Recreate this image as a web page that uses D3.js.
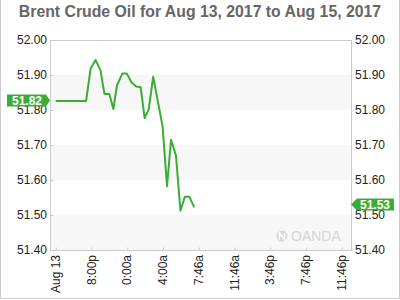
<!DOCTYPE html>
<html>
<head>
<meta charset="utf-8">
<script src="https://cdn.jsdelivr.net/npm/d3@7"></script>
<style>
  body { margin: 0; background: #fff; }
  text { font-family: "Liberation Sans", Arial, sans-serif; }
</style>
</head>
<body>
<svg id="chart" width="400" height="300"></svg>
<script>
// hours after the "Aug 13" tick
const hours = [0, 3.4, 3.9, 4.45, 5.0, 5.45, 6.0, 6.45, 6.85, 7.45, 7.95, 8.45, 9.0, 9.5,
    9.95, 10.4, 10.9, 11.95, 12.45, 12.9, 13.45, 13.95, 14.45, 14.95, 15.5];
const prices = [51.826, 51.826, 51.918, 51.943, 51.914, 51.846, 51.846, 51.803, 51.870, 51.904,
    51.904, 51.880, 51.867, 51.865, 51.777, 51.802, 51.895, 51.754, 51.582, 51.715,
    51.670, 51.512, 51.552, 51.552, 51.522];
const tickHours = [0, 4, 8, 12, 16, 20, 24, 28, 32];
const tickLabels = ["Aug 13", "8:00p", "0:00a", "4:00a", "7:46a", "11:46a", "3:46p", "7:46p", "11:46p"];
const yTicks = [51.4, 51.5, 51.6, 51.7, 51.8, 51.9, 52.0];
const firstLabel = "51.82";
const lastLabel = 51.53;

const svg = d3.select("#chart");
const green = "#3bad35";
const plotL = 50, plotR = 351, plotT = 40, plotB = 250;

const xScale = d3.scaleLinear().domain([-0.64, 33.03]).range([plotL, plotR]);
const yScale = d3.scaleLinear().domain([51.4, 52.0]).range([plotB, plotT]);

// outer border
svg.append("rect").attr("x", 0.5).attr("y", -2).attr("width", 399).attr("height", 300.5)
    .attr("fill", "none").attr("stroke", "#ccc");

// title
svg.append("text").attr("x", 200).attr("y", 17).attr("text-anchor", "middle")
    .attr("font-size", 15.8).attr("font-weight", "bold").attr("fill", "#666")
    .text("Brent Crude Oil for Aug 13, 2017 to Aug 15, 2017");

// alternating bands
const bands = [[51.4, 51.5], [51.6, 51.7], [51.8, 51.9]];
svg.selectAll(".band").data(bands).enter().append("rect")
    .attr("class", "band")
    .attr("x", plotL).attr("width", plotR - plotL)
    .attr("y", d => yScale(d[1])).attr("height", d => yScale(d[0]) - yScale(d[1]))
    .attr("fill", "#f7f7f7");

// OANDA mark
const logo = svg.append("g").attr("fill", "#d6d6d6");
logo.append("circle").attr("cx", 282).attr("cy", 236).attr("r", 5.5);
logo.append("path").attr("d", "M279.5,239.5 L279.5,233 L284.5,239.5 L284.5,233")
    .attr("stroke", "#fff").attr("stroke-width", 1.6).attr("fill", "none");
logo.append("text").attr("x", 291).attr("y", 241).attr("font-size", 14).text("OANDA");

// frame
svg.append("rect").attr("x", plotL + 0.5).attr("y", plotT + 0.5)
    .attr("width", plotR - plotL).attr("height", plotB - plotT)
    .attr("fill", "none").attr("stroke", "#ccc");

// left axis
const yLeft = svg.append("g").attr("transform", `translate(${plotL + 0.5},0)`)
    .call(d3.axisRight(yScale).tickValues(yTicks).tickSize(3).tickFormat(""));
yLeft.select(".domain").remove();
yLeft.selectAll("line").attr("stroke", "#ccc");

svg.selectAll(".ylabL").data(yTicks).enter().append("text")
    .attr("x", plotL - 3).attr("y", d => yScale(d)).attr("dy", "0.35em")
    .attr("text-anchor", "end").attr("font-size", 12).attr("fill", "#222")
    .text(d => d.toFixed(2));
svg.selectAll(".ylabR").data(yTicks).enter().append("text")
    .attr("x", plotR + 4).attr("y", d => yScale(d)).attr("dy", "0.35em")
    .attr("font-size", 12).attr("fill", "#222")
    .text(d => d.toFixed(2));

// x axis
const xAxis = svg.append("g").attr("transform", `translate(0,${plotB + 0.5})`)
    .call(d3.axisTop(xScale).tickValues(tickHours).tickSize(3).tickFormat(""));
xAxis.select(".domain").remove();
xAxis.selectAll("line").attr("stroke", "#ccc");

svg.selectAll(".xlab").data(tickHours).enter().append("text")
    .attr("transform", d => `translate(${xScale(d)},${plotB + 5}) rotate(-90)`)
    .attr("dy", "0.35em").attr("text-anchor", "end")
    .attr("font-size", 12).attr("fill", "#222")
    .text((d, i) => tickLabels[i]);

// price line
const data = hours.map((h, i) => ({ h, v: prices[i] }));
const line = d3.line().x(d => xScale(d.h)).y(d => yScale(d.v));
svg.append("path").datum(data)
    .attr("d", line).attr("fill", "none")
    .attr("stroke", green).attr("stroke-width", 2).attr("stroke-linejoin", "round");

// first value label (left)
const y0 = yScale(prices[0]) - 0.5;
svg.append("path")
    .attr("d", `M7,${y0 - 6} L46,${y0 - 6} L50,${y0} L46,${y0 + 6} L7,${y0 + 6} Z`)
    .attr("fill", green);
svg.append("text").attr("x", 27).attr("y", y0).attr("dy", "0.36em")
    .attr("text-anchor", "middle").attr("font-size", 12).attr("font-weight", "bold")
    .attr("fill", "#fff").text(firstLabel);

// last value label (right)
const y1 = yScale(lastLabel);
svg.append("path")
    .attr("d", `M${plotR},${y1} L${plotR + 6},${y1 - 6} L394,${y1 - 6} L394,${y1 + 6} L${plotR + 6},${y1 + 6} Z`)
    .attr("fill", green);
svg.append("text").attr("x", 375).attr("y", y1).attr("dy", "0.36em")
    .attr("text-anchor", "middle").attr("font-size", 12).attr("font-weight", "bold")
    .attr("fill", "#fff").text(lastLabel.toFixed(2));
</script>
</body>
</html>
